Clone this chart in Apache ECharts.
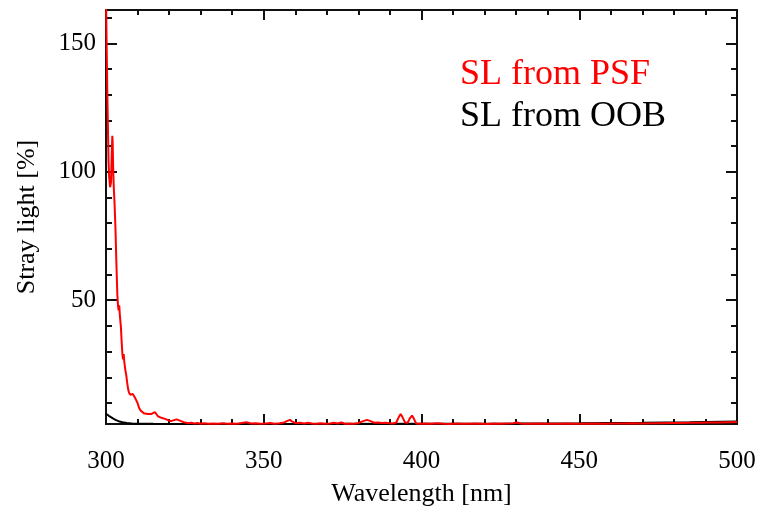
<!DOCTYPE html>
<html>
<head>
<meta charset="utf-8">
<script src="https://cdn.jsdelivr.net/npm/echarts@6/dist/echarts.min.js"></script>
<style>html,body{margin:0;padding:0;background:#fff}#c{width:759px;height:509px}</style>
</head>
<body>
<div id="c"></div>
<script>
// Wavelength (nm) and stray light (%)
const psfWavelength = [300.0,300.2,300.4,300.6,300.8,301.0,301.3,301.6,301.8,302.0,302.1,302.3,302.5,302.7,303.0,303.3,303.6,303.8,304.0,304.2,304.4,304.7,305.0,305.2,305.4,305.6,305.8,306.1,306.4,306.7,307.0,307.3,307.7,308.1,308.5,308.8,309.2,309.6,310.0,310.5,311.0,311.5,312.0,312.6,313.2,313.8,314.4,315.0,315.5,316.0,316.5,317.1,317.8,318.5,319.3,320.0,320.8,321.6,322.4,323.0,323.8,324.6,325.4,326.2,327.0,328.0,329.0,330.0,331.0,332.5,334.0,335.5,337.0,338.5,340.0,341.5,343.0,344.5,346.0,347.5,349.0,350.5,352.0,353.5,355.0,356.5,357.5,358.3,359.2,360.2,361.5,362.8,364.0,365.2,366.5,368.0,369.5,371.0,372.2,373.4,374.6,375.8,377.0,378.5,380.0,381.5,382.7,383.9,385.0,386.2,387.4,388.6,389.8,391.0,392.0,392.8,393.4,394.0,394.8,395.6,396.3,397.0,397.6,398.3,399.5,401.0,403.0,405.0,407.0,409.0,411.0,413.0,415.0,417.0,419.0,421.0,423.0,425.0,427.0,429.0,430.3,431.5,433.0,435.0,437.0,440.0,443.0,446.0,449.0,452.0,455.0,458.0,461.0,464.0,467.0,470.0,473.0,476.0,479.0,482.0,485.0,488.0,491.0,494.0,497.0,500.0];
const psfValues = [168,150,132,118,104,98,94,96,106,114,112,100,93,88,78,64,52,48,46,48,44,40,33,29,27,29,26,23,21,18,15.5,14,13.2,12.5,13.5,13,12,11,10,8,7,6.5,6,6,5.7,5.5,5.7,6,6.4,5.6,4.8,4.3,4.1,3.9,3.5,3.1,3.0,3.3,3.6,3.3,2.9,2.5,2.3,2.1,2.3,2.0,2.2,1.9,2.1,1.9,2.0,1.9,2.1,1.9,2.0,1.9,2.2,2.5,2.0,2.1,1.9,2.0,2.2,1.9,2.1,2.4,3.0,3.4,2.6,2.1,2.3,2.0,2.3,2.0,1.9,2.1,1.9,2.0,2.3,2.0,2.4,1.9,2.0,1.9,2.2,2.9,3.4,2.9,2.3,2.4,2.2,2.3,2.1,2.0,2.4,4.5,5.7,4.4,2.4,2.3,4.0,5.1,3.8,2.0,1.9,2.0,1.9,2.1,1.9,1.8,2.0,1.9,1.9,2.0,1.9,1.8,2.0,1.9,2.0,2.1,2.4,2.0,1.9,1.9,2.0,1.9,1.9,2.0,1.9,1.9,2.0,1.9,2.0,2.0,2.1,2.0,2.1,2.1,2.2,2.2,2.3,2.3,2.4,2.4,2.5,2.6];
const oobWavelength = [300.0,300.4,300.9,301.5,302.2,303.0,304.0,305.2,306.6,308.2,310.0,315.0,330.0,360.0,400.0,430.0,450.0,470.0,485.0,500.0];
const oobValues = [5.8,5.4,5.0,4.6,4.0,3.4,2.9,2.5,2.2,2.0,1.9,1.85,1.8,1.8,1.85,1.95,2.1,2.3,2.5,2.8];
const xTickLabels = [300,350,400,450,500];
const yTickLabels = [50,100,150];
const yMinorTicks = [10,20,30,40,60,70,80,90,110,120,130,140,160];
const seriesNames = ['SL from PSF','SL from OOB'];

const FONT = 'Liberation Serif';
const chart = echarts.init(document.getElementById('c'));
const xMin = 300, xMax = 500, yMin = 1.8, yMax = 163;
const lineStyle = {color:'#111', width:2};

function xAxis(pos, showLabel) {
  return {
    type:'value', position:pos, min:xMin, max:xMax, interval:50,
    axisLine:{show:true, onZero:false, lineStyle},
    axisTick:{show:true, inside:true, length:10, lineStyle},
    minorTick:{show:true, splitNumber:5, length:5, lineStyle},
    splitLine:{show:false}, minorSplitLine:{show:false},
    axisLabel:{show:showLabel, fontFamily:FONT, fontSize:25, color:'#000', margin:25,
      customValues: xTickLabels},
    name: showLabel ? 'Wavelength [nm]' : '',
    nameLocation:'middle', nameGap:57,
    nameTextStyle:{fontFamily:FONT, fontSize:26, color:'#000'}
  };
}
function yAxis(pos, major, showLabel, withName) {
  return {
    type:'value', position:pos, min:yMin, max:yMax,
    axisLine:{show:true, onZero:false, lineStyle},
    axisTick:{show:true, inside:true, length: major ? 11 : 6, lineStyle,
      customValues: major ? yTickLabels : yMinorTicks},
    splitLine:{show:false},
    axisLabel:{show:showLabel, fontFamily:FONT, fontSize:25, color:'#000', margin:10,
      customValues: yTickLabels},
    name: withName ? 'Stray light [%]' : '',
    nameLocation:'middle', nameGap:66,
    nameTextStyle:{fontFamily:FONT, fontSize:26, color:'#000'}
  };
}

chart.setOption({
  animation:false,
  backgroundColor:'#fff',
  grid:{left:106, right:22, top:10, height:414, containLabel:false, outerBoundsMode:'none'},
  legend:{
    orient:'vertical', left:450, top:52, itemGap:6,
    itemWidth:0, itemHeight:0,
    textStyle:{fontFamily:FONT, fontSize:36},
    data:[
      {name:seriesNames[0], icon:'none', textStyle:{color:'#ff0000'}},
      {name:seriesNames[1], icon:'none', textStyle:{color:'#000000'}}
    ],
    selectedMode:false
  },
  xAxis:[xAxis('bottom', true), xAxis('top', false)],
  yAxis:[yAxis('left', true, true, true), yAxis('left', false, false, false),
         yAxis('right', true, false, false), yAxis('right', false, false, false)],
  series:[
    {name:seriesNames[1], type:'line', symbol:'none', xAxisIndex:0, yAxisIndex:0,
     lineStyle:{color:'#000', width:2}, itemStyle:{color:'#000'},
     data: oobWavelength.map((w,i)=>[w, oobValues[i]])},
    {name:seriesNames[0], type:'line', symbol:'none', xAxisIndex:0, yAxisIndex:0,
     lineStyle:{color:'#ff0000', width:2}, itemStyle:{color:'#ff0000'},
     data: psfWavelength.map((w,i)=>[w, psfValues[i]])}
  ]
});
</script>
</body>
</html>
